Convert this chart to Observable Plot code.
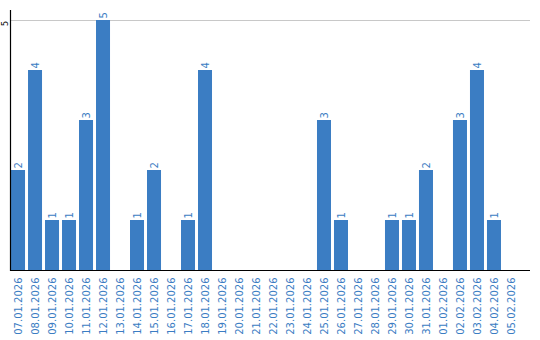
<!DOCTYPE html>
<html><head><meta charset="utf-8">
<script src="https://cdn.jsdelivr.net/npm/d3@7"></script>
<script src="https://cdn.jsdelivr.net/npm/@observablehq/plot@0.6"></script>
<style>body{margin:0;background:#fff}svg{display:block}</style>
</head><body><div id="chart"></div>
<script>
const dates = ["07.01.2026","08.01.2026","09.01.2026","10.01.2026","11.01.2026","12.01.2026","13.01.2026","14.01.2026","15.01.2026","16.01.2026","17.01.2026","18.01.2026","19.01.2026","20.01.2026","21.01.2026","22.01.2026","23.01.2026","24.01.2026","25.01.2026","26.01.2026","27.01.2026","28.01.2026","29.01.2026","30.01.2026","31.01.2026","01.02.2026","02.02.2026","03.02.2026","04.02.2026","05.02.2026"];
const values = [2,4,1,1,3,5,0,1,2,0,1,4,0,0,0,0,0,0,3,1,0,0,1,1,2,0,3,4,1,0];
const yTicks = [5];

const data = dates.map((d, i) => ({date: d, value: values[i]}));
const blue = "#3b7dc3";

const chart = Plot.plot({
  width: 540, height: 340,
  marginLeft: 10, marginRight: 10, marginTop: 10, marginBottom: 70,
  style: {fontFamily: "DejaVu Sans", fontSize: "10px", background: "#fff"},
  x: {domain: dates, range: [10, 519], round: false, paddingInner: 0.176, paddingOuter: 0.06, label: null},
  y: {domain: [0, 5.2], label: null},
  marks: [
    Plot.ruleY(yTicks, {stroke: "#c8c8c8", strokeWidth: 1}),
    Plot.barY(data, {x: "date", y: "value", fill: blue}),
    Plot.text(data.filter(d => d.value > 0), {x: "date", y: "value", text: d => String(d.value), rotate: -90, textAnchor: "start", dy: -2, fill: blue, fontSize: 10}),
    Plot.axisX({tickSize: 0, tickPadding: 7, tickRotate: -90, fill: blue, fontSize: 10, label: null}),
    Plot.axisY({ticks: yTicks, tickFormat: d => String(d), tickSize: 0, tickPadding: 3, tickRotate: -90, fontSize: 8, fill: "#000", dy: 3, label: null}),
    Plot.ruleY([0], {stroke: "#000", strokeWidth: 1.2}),
    Plot.frame({anchor: "left", stroke: "#000", strokeWidth: 1.2})
  ]
});
document.getElementById("chart").appendChild(chart);
</script>
</body></html>
